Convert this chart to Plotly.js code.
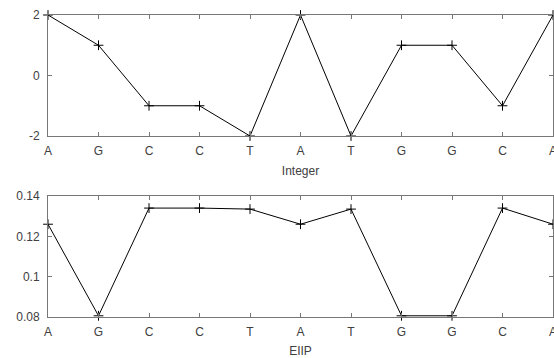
<!DOCTYPE html>
<html><head><meta charset="utf-8">
<script src="https://cdn.plot.ly/plotly-3.0.1.min.js"></script>
<style>html,body{margin:0;padding:0;background:#fff}</style>
</head><body><div id="chart" style="width:554px;height:358px"></div>
<script>
const bases = ['A','G','C','C','T','A','T','G','G','C','A'];
const positions = [1,2,3,4,5,6,7,8,9,10,11];
const integerValues = [2,1,-1,-1,-2,2,-2,1,1,-1,2];
const eiipValues = [0.1260,0.0806,0.1340,0.1340,0.1335,0.1260,0.1335,0.0806,0.0806,0.1340,0.1260];

const lineStyle = {color:'#000', width:1};
const markerStyle = {symbol:'cross-thin-open', size:7, line:{color:'#000', width:1}, color:'#000'};
const tickFont = {family:'Liberation Sans, Arial, sans-serif', size:12, color:'#404040'};

const traces = [
  {x:positions, y:integerValues, xaxis:'x', yaxis:'y', mode:'lines+markers', line:lineStyle, marker:markerStyle, cliponaxis:false},
  {x:positions, y:eiipValues, xaxis:'x2', yaxis:'y2', mode:'lines+markers', line:lineStyle, marker:markerStyle, cliponaxis:false}
];

function xAxis(title, anchor){
  return {anchor:anchor, range:[1,11], tickvals:positions, ticktext:bases, ticks:'inside', ticklen:4,
    tickcolor:'#777', showline:true, linecolor:'#777', linewidth:1, mirror:'ticks', showgrid:false, zeroline:false,
    tickfont:tickFont, ticklabelstandoff:4, ticklabeloverflow:'allow',
    title:{text:title, font:tickFont, standoff:9}, fixedrange:true};
}
function yAxis(range, tv, tt, domain, anchor){
  return {anchor:anchor, domain:domain, range:range, tickvals:tv, ticktext:tt, ticks:'inside', ticklen:4,
    tickcolor:'#777', showline:true, linecolor:'#777', linewidth:1, mirror:'ticks', showgrid:false, zeroline:false,
    tickfont:tickFont, ticklabelstandoff:5, ticklabeloverflow:'allow', fixedrange:true};
}

const layout = {
  width:554, height:358, margin:{l:48, r:1, t:15, b:41},
  paper_bgcolor:'#fff', plot_bgcolor:'#fff', showlegend:false,
  xaxis: Object.assign(xAxis('Integer','y'), {domain:[0,1]}),
  yaxis: yAxis([-2,2],[-2,0,2],['-2','0','2'],[0.5993,1],'x'),
  xaxis2: Object.assign(xAxis('EIIP','y2'), {domain:[0,1]}),
  yaxis2: yAxis([0.08,0.14],[0.08,0.1,0.12,0.14],['0.08','0.1','0.12','0.14'],[0,0.4007],'x2')
};
Plotly.newPlot('chart', traces, layout, {staticPlot:true, displayModeBar:false});
</script></body></html>
